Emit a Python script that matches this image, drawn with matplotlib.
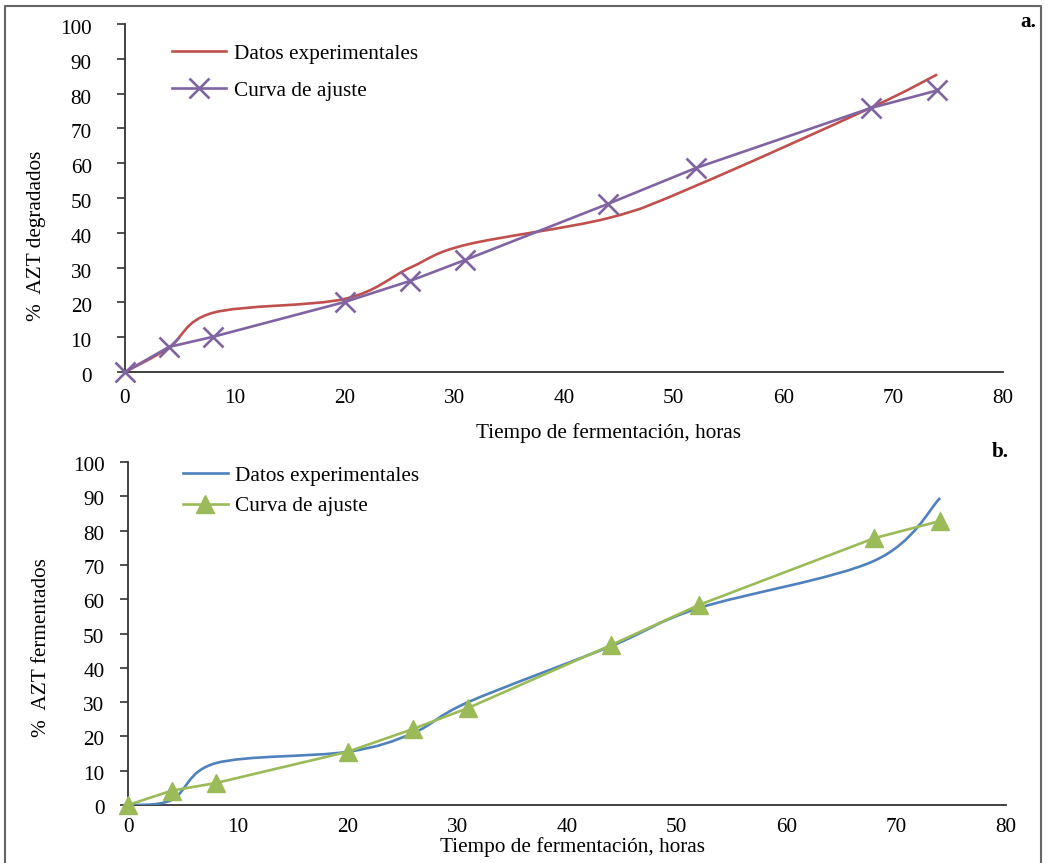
import matplotlib
matplotlib.use("Agg")
import matplotlib.pyplot as plt
import numpy as np
from matplotlib.path import Path
from matplotlib.patches import PathPatch
from matplotlib.lines import Line2D
from matplotlib.transforms import ScaledTranslation

plt.rcParams['font.family'] = ['Liberation Serif', 'DejaVu Serif']

# ---- data ----
hours = [0, 4, 8, 20, 26, 31, 44, 52, 68, 74]
deg_exp = [0, 7, 17, 21, 30, 36.5, 44.2, 53.5, 76, 85.5]
deg_fit = [0, 7.2, 10.1, 20.1, 26.2, 32.2, 48.3, 58.6, 75.9, 80.9]
fer_exp = [0, 1.5, 12.2, 15.5, 21, 30, 46.3, 57.4, 71.2, 89.5]
fer_fit = [0, 4.2, 6.4, 15.5, 22.2, 28.3, 46.6, 58.3, 77.8, 82.8]
xticks = [0, 10, 20, 30, 40, 50, 60, 70, 80]
yticks = [0, 10, 20, 30, 40, 50, 60, 70, 80, 90, 100]
xlabel = "Tiempo de fermentación, horas"
ylabel_a = "%  AZT degradados"
ylabel_b = "%  AZT fermentados"
lab_exp = "Datos experimentales"
lab_fit = "Curva de ajuste"

RED = "#C0504D"
PURPLE = "#8064A2"
BLUE = "#4F81BD"
GREEN = "#9BBB59"
FS = 15.3

W, H = 1048, 863
fig = plt.figure(figsize=(W / 100, H / 100), dpi=100)


def fx(px):
    return px / W


def fy(py):
    return 1 - py / H


def smooth_path(x, y):
    """Excel-like smoothed line as cubic Bezier segments (Catmull-Rom control points)."""
    pts = np.column_stack([x, y]).astype(float)
    n = len(pts)
    verts = [pts[0]]
    codes = [Path.MOVETO]
    for i in range(n - 1):
        p0 = pts[i - 1] if i > 0 else pts[i]
        p1 = pts[i]
        p2 = pts[i + 1]
        p3 = pts[i + 2] if i + 2 < n else pts[i + 1]
        c1 = p1 + (p2 - p0) / 6.0
        c2 = p2 - (p3 - p1) / 6.0
        verts += [c1, c2, p2]
        codes += [Path.CURVE4] * 3
    return Path(verts, codes)


def setup(ax, ypad, xpad, ydown):
    ax.set_xlim(0, 80)
    ax.set_ylim(0, 100)
    ax.set_xticks(xticks)
    ax.set_yticks(yticks)
    for s in ['top', 'right']:
        ax.spines[s].set_visible(False)
    for s in ['left', 'bottom']:
        ax.spines[s].set_color('#333333')
        ax.spines[s].set_linewidth(1.3)
    ax.tick_params(axis='y', direction='out', length=6, width=1.2, color='#333333',
                   labelsize=FS, pad=ypad)
    ax.tick_params(axis='x', length=0, labelsize=FS, pad=xpad)
    off = ScaledTranslation(0, -ydown / 100, fig.dpi_scale_trans)
    for lab in ax.get_yticklabels():
        lab.set_transform(lab.get_transform() + off)
    ax.patch.set_alpha(0)


# ---- panel a ----
axa = fig.add_axes([fx(125), fy(372), fx(1003) - fx(125), fy(24) - fy(372)])
setup(axa, 18, 12, 3)
axa.add_patch(PathPatch(smooth_path(hours, deg_exp), fill=False, edgecolor=RED, lw=1.9,
                        zorder=3))
axa.plot(hours, deg_fit, color=PURPLE, lw=1.9, marker='x', markersize=14,
         markeredgewidth=1.9, zorder=4, clip_on=False)
ha = [Line2D([], [], color=RED, lw=1.9),
      Line2D([], [], color=PURPLE, lw=1.9, marker='x', markersize=14, markeredgewidth=1.9)]
axa.legend(ha, [lab_exp, lab_fit], loc='upper left', bbox_to_anchor=(fx(172), fy(44)),
           bbox_transform=fig.transFigure, frameon=False, fontsize=FS, borderpad=0,
           borderaxespad=0, handlelength=2.55, handletextpad=0.35, labelspacing=0.8)

# ---- panel b ----
axb = fig.add_axes([fx(128), fy(805), fx(1006) - fx(128), fy(462) - fy(805)])
setup(axb, 11, 9, 2)
axb.add_patch(PathPatch(smooth_path(hours, fer_exp), fill=False, edgecolor=BLUE, lw=1.9,
                        zorder=3))
axb.plot(hours, fer_fit, color=GREEN, lw=1.9, marker='^', markersize=13, zorder=4,
         clip_on=False)
hb = [Line2D([], [], color=BLUE, lw=1.9),
      Line2D([], [], color=GREEN, lw=1.9, marker='^', markersize=13)]
axb.legend(hb, [lab_exp, lab_fit], loc='upper left', bbox_to_anchor=(fx(183), fy(466)),
           bbox_transform=fig.transFigure, frameon=False, fontsize=FS, borderpad=0,
           borderaxespad=0, handlelength=2.1, handletextpad=0.35, labelspacing=0.5)

# ---- axis labels ----
fig.text(fx(609), fy(433), xlabel, ha='center', va='center', fontsize=FS)
fig.text(fx(572), fy(847), xlabel, ha='center', va='center', fontsize=FS)
fig.text(fx(37), fy(236), ylabel_a, ha='center', va='center', rotation=90, fontsize=FS)
fig.text(fx(42), fy(648), ylabel_b, ha='center', va='center', rotation=90, fontsize=FS)

# panel tags
fig.text(fx(1028), fy(22), "a.", ha='center', va='center', fontsize=FS, fontweight='bold')
fig.text(fx(1000), fy(452), "b.", ha='center', va='center', fontsize=FS, fontweight='bold')

# outer frame
frame = Line2D([fx(5), fx(5), fx(1041), fx(1041)], [0, fy(6), fy(6), 0],
               transform=fig.transFigure, color='#666666', lw=1.5)
fig.add_artist(frame)

fig.savefig("out.png", dpi=100)
